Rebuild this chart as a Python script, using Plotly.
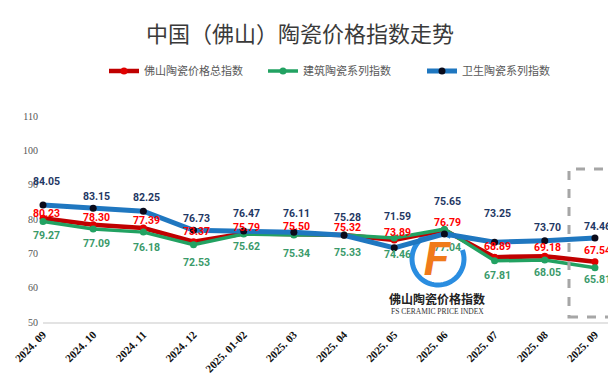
import numpy as np
import plotly.graph_objects as go

categories = ["2024. 09", "2024. 10", "2024. 11", "2024. 12", "2025. 01-02", "2025. 03",
              "2025. 04", "2025. 05", "2025. 06", "2025. 07", "2025. 08", "2025. 09"]
total_index = [80.23, 78.30, 77.39, 73.37, 75.79, 75.50, 75.32, 73.89, 76.79, 68.89, 69.18, 67.54]
building_index = [79.27, 77.09, 76.18, 72.53, 75.62, 75.34, 75.33, 74.46, 77.04, 67.81, 68.05, 65.81]
sanitary_index = [84.05, 83.15, 82.25, 76.73, 76.47, 76.11, 75.28, 71.59, 75.65, 73.25, 73.70, 74.46]
y_ticks = [50, 60, 70, 80, 90, 100, 110]

names = ["佛山陶瓷价格总指数", "建筑陶瓷系列指数", "卫生陶瓷系列指数"]

# label offsets in pixels (style only)
red_shift = [5, 7, 7, 10, 6, 8, 8, 7, 8, 11, 9, 11]
green_shift = [-14, -15, -15, -18, -12, -18, -17, -16, -18, -15, -12, -12]
blue_shift = [24, 12, 14, 12, 18, 19, 18, 31, 32, 29, 13, 12]

W, H = 616, 389
OFF = 8  # page body margin of the html page
# plot area in page pixels: x 43..612, y 116..322
ML = 43 - OFF
MT = 116 - OFF
MR = W - (612 - OFF)
MB = H - (322 - OFF)
PW = W - ML - MR
PH = H - MT - MB

fig = go.Figure()

series = [
    (total_index, names[0], "#c00000", 4.5, "#e00000", "#ff0000", red_shift),
    (building_index, names[1], "#22a262", 3.5, "#22a262", "#3a9a6a", green_shift),
    (sanitary_index, names[2], "#1f77c0", 5, "#0a0a1a", "#1f3864", blue_shift),
]

for vals, nm, lc, lw, mc, tc, shifts in series:
    fig.add_trace(go.Scatter(
        x=categories, y=vals, name=nm, mode="lines+markers",
        line=dict(color=lc, width=lw),
        marker=dict(color=mc, size=7),
        cliponaxis=False,
    ))

annotations = []
for vals, nm, lc, lw, mc, tc, shifts in series:
    for c, v, s in zip(categories, vals, shifts):
        annotations.append(dict(
            x=c, y=v, xref="x", yref="y", text=f"{v:.2f}", showarrow=False,
            xshift=3, yshift=s, yanchor="middle", xanchor="center",
            font=dict(family="Roboto", size=10.5, color=tc, weight="bold"),
        ))

def px_to_paper(px, py):
    # page pixel -> paper coords
    fx, fy = px - OFF, py - OFF
    return (fx - ML) / PW, (H - MB - fy) / PH

# watermark logo
cx, cy = px_to_paper(438, 259)
annotations.append(dict(x=cx, y=cy, xref="paper", yref="paper", text="<i>F</i>", showarrow=False,
                        font=dict(family="Roboto", size=46, color="#f07a1a", weight="bold", style="italic"),
                        yanchor="middle", xanchor="center", xshift=-1))
tx, ty = px_to_paper(437, 298)
annotations.append(dict(x=tx, y=ty, xref="paper", yref="paper", text="佛山陶瓷价格指数", showarrow=False,
                        font=dict(family="Noto Sans CJK SC", size=12, color="#222222", weight="bold"),
                        yanchor="middle", xanchor="center"))
ex, ey = px_to_paper(437, 311)
annotations.append(dict(x=ex, y=ey, xref="paper", yref="paper", text="FS CERAMIC PRICE INDEX", showarrow=False,
                        font=dict(family="Liberation Serif", size=7.5, color="#333333"),
                        yanchor="middle", xanchor="center"))

# arc of logo circle
ang = np.linspace(np.deg2rad(60), np.deg2rad(60 + 320), 60)
r = 26
pts = [px_to_paper(438 + r * np.cos(a), 259 - r * np.sin(a)) for a in ang]
path = "M " + " L ".join(f"{p[0]:.4f},{p[1]:.4f}" for p in pts)

shapes = [
    dict(type="path", path=path, xref="paper", yref="paper", layer="below",
         line=dict(color="#2a8de0", width=5)),
]
bx0, by0 = px_to_paper(569, 317)
bx1, by1 = px_to_paper(611, 169)
shapes.append(dict(type="rect", xref="paper", yref="paper", x0=bx0, y0=by0, x1=bx1, y1=by1,
                   line=dict(color="#a6a6a6", width=3, dash="dash"), layer="above"))

fig.update_layout(
    width=W, height=H, autosize=False,
    margin=dict(l=ML, r=MR, t=MT, b=MB, pad=0, autoexpand=False),
    paper_bgcolor="white", plot_bgcolor="white",
    title=dict(text="中国（佛山）陶瓷价格指数走势", x=(300 - OFF) / W, xanchor="center",
               y=1 - (34 - OFF) / H, yanchor="middle",
               font=dict(family="Noto Sans CJK SC", size=22, color="#3a3a3a")),
    legend=dict(orientation="h", xref="container", yref="container", x=(104 - OFF) / W, xanchor="left",
                y=1 - (71 - OFF) / H, yanchor="middle",
                font=dict(family="Noto Sans CJK SC", size=11, color="#595959"),
                itemwidth=30, entrywidth=114, entrywidthmode="pixels", bgcolor="rgba(0,0,0,0)"),
    xaxis=dict(type="category", range=[0, 11.34], showgrid=False, zeroline=False, automargin=False,
               showline=True, linecolor="#e3e3e3", linewidth=2, ticks="", tickangle=-45,
               tickfont=dict(family="Liberation Serif", size=11, color="#111111", weight="bold")),
    yaxis=dict(range=[50, 110], tickvals=y_ticks, showgrid=False, zeroline=False, showline=False,
               automargin=False, ticks="", ticklabelstandoff=4,
               tickfont=dict(family="Liberation Serif", size=10, color="#555555")),
    annotations=annotations,
    shapes=shapes,
    showlegend=True,
)

fig.write_html("out.html")
